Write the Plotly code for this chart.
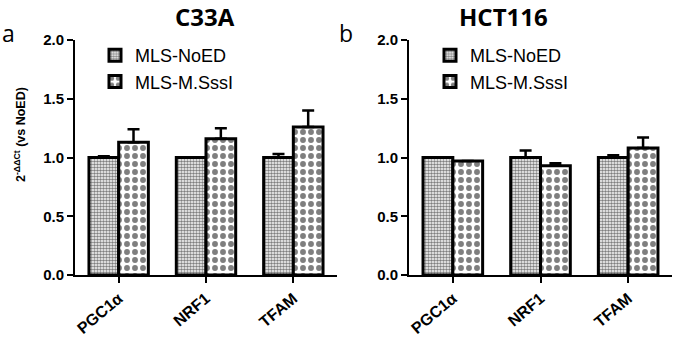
import plotly.graph_objects as go

categories = ["PGC1α", "NRF1", "TFAM"]
series_names = ["MLS-NoED", "MLS-M.SssI"]

c33a_noed = [1.00, 1.00, 1.00]
c33a_noed_err = [0.01, 0.00, 0.03]
c33a_msssi = [1.13, 1.16, 1.26]
c33a_msssi_err = [0.11, 0.09, 0.14]

hct_noed = [1.00, 1.00, 1.00]
hct_noed_err = [0.00, 0.06, 0.02]
hct_msssi = [0.97, 0.93, 1.08]
hct_msssi_err = [0.00, 0.02, 0.09]

y_ticks = [0.0, 0.5, 1.0, 1.5, 2.0]
panel_titles = ["C33A", "HCT116"]
panel_letters = ["a", "b"]
y_title = "2<sup>-ΔΔCt</sup> (vs NoED)"

W, H = 675, 343
PLOT_TOP, PLOT_BOT = 40, 275  # pixels
PH = PLOT_BOT - PLOT_TOP

def px(X):
    return X / W

def py(Y):
    return (PLOT_BOT - Y) / PH

AX = "Liberation Sans"

patterns = [
    dict(shape=".", size=3, solidity=0.55, fgcolor="black", bgcolor="white"),
    dict(shape=".", size=8, solidity=0.42, fgcolor="black", bgcolor="white"),
]

fig = go.Figure()

def add_panel(xa, ya, legend, data):
    for i, (vals, errs) in enumerate(data):
        fig.add_trace(go.Bar(
            x=categories, y=vals, name=series_names[i],
            xaxis=xa, yaxis=ya, legend=legend,
            marker=dict(color="white", pattern=patterns[i],
                        line=dict(color="black", width=3)),
            error_y=dict(type="data", symmetric=False, array=errs,
                         arrayminus=[0] * len(errs), color="black",
                         thickness=2.5, width=6),
        ))

add_panel("x", "y", "legend", [(c33a_noed, c33a_noed_err), (c33a_msssi, c33a_msssi_err)])
add_panel("x2", "y2", "legend2", [(hct_noed, hct_noed_err), (hct_msssi, hct_msssi_err)])

axis_common_x = dict(showline=True, linewidth=2, linecolor="black", ticks="outside",
                     ticklen=6, tickwidth=2, tickcolor="black", tickangle=-40,
                     tickfont=dict(family=AX, size=16, color="black", weight="bold"),
                     showgrid=False, range=[-0.5, 2.5], automargin=False)
axis_common_y = dict(showline=True, linewidth=2, linecolor="black", ticks="outside",
                     ticklen=6, tickwidth=2, tickcolor="black", tickvals=y_ticks,
                     tickformat=".1f", range=[0, 2.0], showgrid=False, zeroline=False,
                     automargin=False,
                     tickfont=dict(family=AX, size=15, color="black", weight="bold"))

legend_common = dict(font=dict(family=AX, size=18, color="black"),
                     bgcolor="rgba(0,0,0,0)", xanchor="left", yanchor="top",
                     xref="paper", yref="paper", tracegroupgap=0)

fig.update_layout(
    width=W, height=H,
    margin=dict(l=0, r=0, t=PLOT_TOP, b=H - PLOT_BOT),
    paper_bgcolor="white", plot_bgcolor="white",
    barmode="group", bargap=0.32, bargroupgap=0,
    xaxis=dict(domain=[px(75), px(337)], anchor="y", **axis_common_x),
    yaxis=dict(anchor="x", **axis_common_y),
    xaxis2=dict(domain=[px(409), px(672)], anchor="y2", **axis_common_x),
    yaxis2=dict(anchor="x2", **axis_common_y),
    legend=dict(x=px(95), y=py(37), **legend_common),
    legend2=dict(x=px(430), y=py(37), **legend_common),
    showlegend=True,
)

annots = [
    dict(text=panel_titles[0], x=px(205), y=py(16.5), font=dict(family="Open Sans", size=24, weight="bold")),
    dict(text=panel_titles[1], x=px(503), y=py(16.5), font=dict(family="Open Sans", size=24, weight="bold")),
    dict(text=panel_letters[0], x=px(8), y=py(33), font=dict(family="Open Sans", size=23)),
    dict(text=panel_letters[1], x=px(346), y=py(33), font=dict(family="Open Sans", size=23)),
    dict(text=y_title, x=px(20), y=py(135), textangle=-90, font=dict(family=AX, size=12.5, weight="bold")),
]
for a in annots:
    fig.add_annotation(xref="paper", yref="paper", showarrow=False,
                       xanchor="center", yanchor="middle", **a)
for a in fig.layout.annotations:
    a.font.color = "black"

# remove the browser's default 8px body margin so the figure sits at the page origin
fig.write_html("out.html", config={"displayModeBar": False},
               post_script="document.body.style.margin='0';")
